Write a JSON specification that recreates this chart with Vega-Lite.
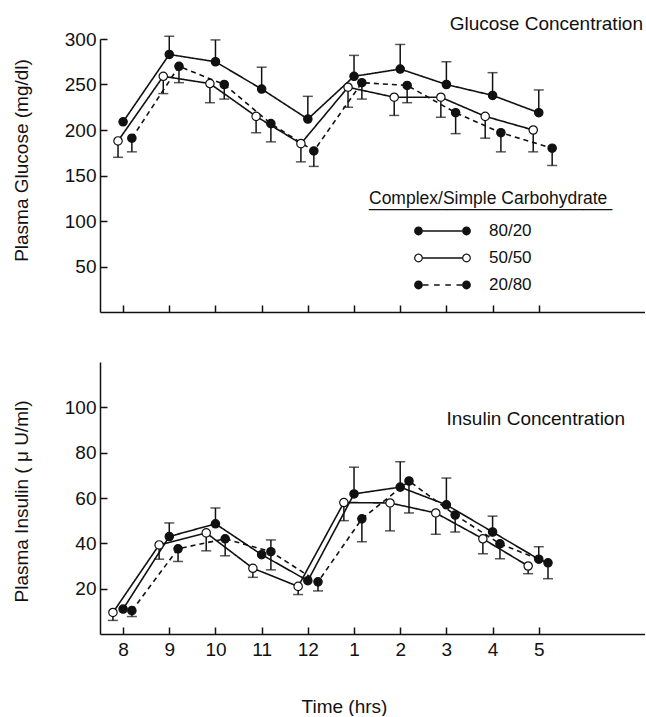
{
  "$schema": "https://vega.github.io/schema/vega-lite/v6.json",
  "padding": {"left": 12, "top": 15, "right": 0, "bottom": 0},
  "background": "white",
  "config": {
    "view": {"stroke": null},
    "font": "Liberation Sans",
    "axis": {"grid": false, "domainColor": "#111", "tickColor": "#111", "labelColor": "#111", "titleColor": "#111", "labelFont": "Liberation Sans", "titleFont": "Liberation Sans", "labelFontSize": 19, "titleFontSize": 19, "titleFontWeight": "normal", "domainWidth": 1.5, "tickWidth": 1.5, "tickSize": -7}
  },
  "datasets": {
    "glucose": [
      {"hour": 8, "group": "80/20", "value": 209}, {"hour": 9, "group": "80/20", "value": 283}, {"hour": 10, "group": "80/20", "value": 275}, {"hour": 11, "group": "80/20", "value": 245}, {"hour": 12, "group": "80/20", "value": 212}, {"hour": 13, "group": "80/20", "value": 259}, {"hour": 14, "group": "80/20", "value": 267}, {"hour": 15, "group": "80/20", "value": 250}, {"hour": 16, "group": "80/20", "value": 238}, {"hour": 17, "group": "80/20", "value": 219},
      {"hour": 7.89, "group": "50/50", "value": 188}, {"hour": 8.87, "group": "50/50", "value": 259}, {"hour": 9.88, "group": "50/50", "value": 251}, {"hour": 10.88, "group": "50/50", "value": 215}, {"hour": 11.85, "group": "50/50", "value": 185}, {"hour": 12.87, "group": "50/50", "value": 247}, {"hour": 13.87, "group": "50/50", "value": 236}, {"hour": 14.88, "group": "50/50", "value": 236}, {"hour": 15.84, "group": "50/50", "value": 215}, {"hour": 16.88, "group": "50/50", "value": 200},
      {"hour": 8.19, "group": "20/80", "value": 191}, {"hour": 9.21, "group": "20/80", "value": 270}, {"hour": 10.19, "group": "20/80", "value": 250}, {"hour": 11.2, "group": "20/80", "value": 207}, {"hour": 12.13, "group": "20/80", "value": 177}, {"hour": 13.17, "group": "20/80", "value": 252}, {"hour": 14.15, "group": "20/80", "value": 249}, {"hour": 15.2, "group": "20/80", "value": 219}, {"hour": 16.18, "group": "20/80", "value": 197}, {"hour": 17.29, "group": "20/80", "value": 180}
    ],
    "glucoseErr": [
      {"hour": 9, "group": "80/20", "value": 283, "end": 303}, {"hour": 10, "group": "80/20", "value": 275, "end": 299}, {"hour": 11, "group": "80/20", "value": 245, "end": 269}, {"hour": 12, "group": "80/20", "value": 212, "end": 237}, {"hour": 13, "group": "80/20", "value": 259, "end": 282}, {"hour": 14, "group": "80/20", "value": 267, "end": 294}, {"hour": 15, "group": "80/20", "value": 250, "end": 275}, {"hour": 16, "group": "80/20", "value": 238, "end": 263}, {"hour": 17, "group": "80/20", "value": 219, "end": 244},
      {"hour": 7.89, "group": "50/50", "value": 188, "end": 170}, {"hour": 8.87, "group": "50/50", "value": 259, "end": 240}, {"hour": 9.88, "group": "50/50", "value": 251, "end": 230}, {"hour": 10.88, "group": "50/50", "value": 215, "end": 197}, {"hour": 11.85, "group": "50/50", "value": 185, "end": 165}, {"hour": 12.87, "group": "50/50", "value": 247, "end": 225}, {"hour": 13.87, "group": "50/50", "value": 236, "end": 216}, {"hour": 14.88, "group": "50/50", "value": 236, "end": 214}, {"hour": 15.84, "group": "50/50", "value": 215, "end": 191}, {"hour": 16.88, "group": "50/50", "value": 200, "end": 176},
      {"hour": 8.19, "group": "20/80", "value": 191, "end": 176}, {"hour": 9.21, "group": "20/80", "value": 270, "end": 252}, {"hour": 10.19, "group": "20/80", "value": 250, "end": 234}, {"hour": 11.2, "group": "20/80", "value": 207, "end": 187}, {"hour": 12.13, "group": "20/80", "value": 177, "end": 160}, {"hour": 13.17, "group": "20/80", "value": 252, "end": 234}, {"hour": 14.15, "group": "20/80", "value": 249, "end": 230}, {"hour": 15.2, "group": "20/80", "value": 219, "end": 196}, {"hour": 16.18, "group": "20/80", "value": 197, "end": 176}, {"hour": 17.29, "group": "20/80", "value": 180, "end": 161}
    ],
    "insulin": [
      {"hour": 8, "group": "80/20", "value": 11}, {"hour": 9, "group": "80/20", "value": 43}, {"hour": 10, "group": "80/20", "value": 48.6}, {"hour": 11, "group": "80/20", "value": 35}, {"hour": 12, "group": "80/20", "value": 23.5}, {"hour": 13, "group": "80/20", "value": 61.8}, {"hour": 14, "group": "80/20", "value": 64.8}, {"hour": 15, "group": "80/20", "value": 57}, {"hour": 16, "group": "80/20", "value": 45}, {"hour": 17, "group": "80/20", "value": 33},
      {"hour": 7.78, "group": "50/50", "value": 9.5}, {"hour": 8.78, "group": "50/50", "value": 39.3}, {"hour": 9.8, "group": "50/50", "value": 44.6}, {"hour": 10.81, "group": "50/50", "value": 29}, {"hour": 11.79, "group": "50/50", "value": 21}, {"hour": 12.78, "group": "50/50", "value": 58}, {"hour": 13.78, "group": "50/50", "value": 57.8}, {"hour": 14.77, "group": "50/50", "value": 53.4}, {"hour": 15.79, "group": "50/50", "value": 42}, {"hour": 16.77, "group": "50/50", "value": 30},
      {"hour": 8.19, "group": "20/80", "value": 10.3}, {"hour": 9.19, "group": "20/80", "value": 37.6}, {"hour": 10.21, "group": "20/80", "value": 42}, {"hour": 11.2, "group": "20/80", "value": 36.3}, {"hour": 12.22, "group": "20/80", "value": 23}, {"hour": 13.17, "group": "20/80", "value": 50.8}, {"hour": 14.19, "group": "20/80", "value": 67.5}, {"hour": 15.19, "group": "20/80", "value": 52.5}, {"hour": 16.16, "group": "20/80", "value": 39.8}, {"hour": 17.2, "group": "20/80", "value": 31.4}
    ],
    "insulinErr": [
      {"hour": 9, "group": "80/20", "value": 43, "end": 49}, {"hour": 10, "group": "80/20", "value": 48.6, "end": 55.6}, {"hour": 13, "group": "80/20", "value": 61.8, "end": 73.6}, {"hour": 14, "group": "80/20", "value": 64.8, "end": 76}, {"hour": 15, "group": "80/20", "value": 57, "end": 68.8}, {"hour": 16, "group": "80/20", "value": 45, "end": 52}, {"hour": 17, "group": "80/20", "value": 33, "end": 38.5},
      {"hour": 7.78, "group": "50/50", "value": 9.5, "end": 6}, {"hour": 8.78, "group": "50/50", "value": 39.3, "end": 33}, {"hour": 9.8, "group": "50/50", "value": 44.6, "end": 36.7}, {"hour": 10.81, "group": "50/50", "value": 29, "end": 25}, {"hour": 11.79, "group": "50/50", "value": 21, "end": 17.4}, {"hour": 12.78, "group": "50/50", "value": 58, "end": 50}, {"hour": 13.78, "group": "50/50", "value": 57.8, "end": 45.5}, {"hour": 14.77, "group": "50/50", "value": 53.4, "end": 44}, {"hour": 15.79, "group": "50/50", "value": 42, "end": 35.4}, {"hour": 16.77, "group": "50/50", "value": 30, "end": 26.6},
      {"hour": 8.19, "group": "20/80", "value": 10.3, "end": 7.7}, {"hour": 9.19, "group": "20/80", "value": 37.6, "end": 32}, {"hour": 10.21, "group": "20/80", "value": 42, "end": 34.5}, {"hour": 11.2, "group": "20/80", "value": 36.3, "end": 28.3}, {"hour": 11.2, "group": "20/80", "value": 36.3, "end": 41.5}, {"hour": 12.22, "group": "20/80", "value": 23, "end": 19}, {"hour": 13.17, "group": "20/80", "value": 50.8, "end": 40.7}, {"hour": 14.19, "group": "20/80", "value": 67.5, "end": 53.4}, {"hour": 15.19, "group": "20/80", "value": 52.5, "end": 45}, {"hour": 16.16, "group": "20/80", "value": 39.8, "end": 33.2}, {"hour": 17.2, "group": "20/80", "value": 31.4, "end": 24.4}
    ]
  },
  "spacing": 50,
  "bounds": "flush",
  "resolve": {"scale": {"y": "independent", "x": "independent"}, "legend": {"fill": "independent", "shape": "independent"}},
  "vconcat": [
    {
      "width": 545,
      "height": 273,
      "title": {"text": "Glucose Concentration", "anchor": "end", "frame": "group", "fontSize": 19, "fontWeight": "normal", "font": "Liberation Sans", "color": "#111", "offset": -4, "dx": -2},
      "layer": [
        {
          "data": {"name": "glucose"},
          "mark": {"type": "line", "color": "#111", "strokeWidth": 1.6},
          "encoding": {
            "x": {"field": "hour", "type": "quantitative", "scale": {"domain": [7.5, 19.3], "nice": false, "zero": false}, "axis": {"values": [8, 9, 10, 11, 12, 13, 14, 15, 16, 17], "labels": false, "title": null}},
            "y": {"field": "value", "type": "quantitative", "scale": {"domain": [0, 300], "nice": false}, "axis": {"values": [50, 100, 150, 200, 250, 300], "title": "Plasma Glucose (mg/dl)", "titlePadding": 33, "titleY": 121, "labelPadding": 11}},
            "detail": {"field": "group"},
            "strokeDash": {"field": "group", "type": "nominal", "scale": {"domain": ["80/20", "50/50", "20/80"], "range": [[1, 0], [1, 0], [5, 4]]}, "legend": null}
          }
        },
        {
          "data": {"name": "glucoseErr"},
          "mark": {"type": "rule", "color": "#111", "strokeWidth": 1.5},
          "encoding": {
            "x": {"field": "hour", "type": "quantitative"},
            "y": {"field": "value", "type": "quantitative"},
            "y2": {"field": "end"}
          }
        },
        {
          "data": {"name": "glucoseErr"},
          "mark": {"type": "tick", "orient": "horizontal", "color": "#111", "thickness": 1.5, "size": 10},
          "encoding": {
            "x": {"field": "hour", "type": "quantitative"},
            "y": {"field": "end", "type": "quantitative"}
          }
        },
        {
          "data": {"name": "glucose"},
          "transform": [{"filter": "datum.group !== '50/50'"}],
          "mark": {"type": "point", "filled": true, "size": 70, "fill": "#111", "stroke": "#111", "strokeWidth": 1.2, "opacity": 1},
          "encoding": {
            "x": {"field": "hour", "type": "quantitative"},
            "y": {"field": "value", "type": "quantitative"}
          }
        },
        {
          "data": {"name": "glucose"},
          "transform": [{"filter": "datum.group === '50/50'"}],
          "mark": {"type": "point", "filled": true, "size": 70, "fill": "#ffffff", "stroke": "#111", "strokeWidth": 1.2, "opacity": 1},
          "encoding": {
            "x": {"field": "hour", "type": "quantitative"},
            "y": {"field": "value", "type": "quantitative"}
          }
        },
        {
          "data": {"name": "glucose"},
          "transform": [{"filter": "datum.value < 0"}],
          "mark": {"type": "point", "filled": true, "size": 64, "stroke": "#111", "strokeWidth": 1.5, "opacity": 1},
          "encoding": {
            "x": {"field": "hour", "type": "quantitative"},
            "y": {"field": "value", "type": "quantitative"},
            "shape": {"field": "group", "type": "nominal", "scale": {"domain": ["80/20", "50/50", "20/80"], "range": [
              "M-7.1,0A1.1,1.1,0,1,0,-4.9,0A1.1,1.1,0,1,0,-7.1,0ZM4.9,0A1.1,1.1,0,1,0,7.1,0A1.1,1.1,0,1,0,4.9,0ZM-4.9,-0.2L4.9,-0.2L4.9,0.2L-4.9,0.2Z",
              "M-7.1,0A1.1,1.1,0,1,0,-4.9,0A1.1,1.1,0,1,0,-7.1,0ZM-6.8,0A0.8,0.8,0,1,1,-5.2,0A0.8,0.8,0,1,1,-6.8,0ZM4.9,0A1.1,1.1,0,1,0,7.1,0A1.1,1.1,0,1,0,4.9,0ZM5.2,0A0.8,0.8,0,1,1,6.8,0A0.8,0.8,0,1,1,5.2,0ZM-4.9,-0.2L4.9,-0.2L4.9,0.2L-4.9,0.2Z",
              "M-7.1,0A1.1,1.1,0,1,0,-4.9,0A1.1,1.1,0,1,0,-7.1,0ZM4.9,0A1.1,1.1,0,1,0,7.1,0A1.1,1.1,0,1,0,4.9,0ZM-4.9,-0.2L-3.5,-0.2L-3.5,0.2L-4.9,0.2ZM-2.1,-0.2L-0.7,-0.2L-0.7,0.2L-2.1,0.2ZM0.7,-0.2L2.1,-0.2L2.1,0.2L0.7,0.2ZM3.5,-0.2L4.9,-0.2L4.9,0.2L3.5,0.2Z"
            ]},
              "legend": {
                "orient": "none", "legendX": 269, "legendY": 151,
                "title": ["Complex/Simple Carbohydrate", "_________________________"],
                "titleFont": "Liberation Sans", "titleFontSize": 17.5, "titleFontWeight": "normal", "titleColor": "#111", "titleLineHeight": 2, "titlePadding": 13, "titleLimit": 400,
                "labelFont": "Liberation Sans", "labelFontSize": 17, "labelColor": "#111", "labelLimit": 200,
                "symbolSize": 64, "symbolStrokeColor": "#111", "symbolStrokeWidth": 1.5,
                "symbolOffset": 65, "labelOffset": 38, "rowPadding": 9
              }
            },
            "fill": {
              "field": "group", "type": "nominal",
              "scale": {"domain": ["80/20", "50/50", "20/80"], "range": ["#111", "#111", "#111"]},
              "legend": {
                "orient": "none", "legendX": 269, "legendY": 151,
                "title": ["Complex/Simple Carbohydrate", "_________________________"],
                "titleFont": "Liberation Sans", "titleFontSize": 17.5, "titleFontWeight": "normal", "titleColor": "#111", "titleLineHeight": 2, "titlePadding": 13, "titleLimit": 400,
                "labelFont": "Liberation Sans", "labelFontSize": 17, "labelColor": "#111", "labelLimit": 200,
                "symbolSize": 64, "symbolStrokeColor": "#111", "symbolStrokeWidth": 1.5,
                "symbolOffset": 65, "labelOffset": 38, "rowPadding": 9
              }
            }
          }
        }
      ]
    },
    {
      "width": 545,
      "height": 272,
      "title": {"text": "Insulin Concentration", "anchor": "end", "frame": "group", "fontSize": 19, "fontWeight": "normal", "font": "Liberation Sans", "color": "#111", "offset": -67, "dx": -20},
      "layer": [
        {
          "data": {"name": "insulin"},
          "mark": {"type": "line", "color": "#111", "strokeWidth": 1.6},
          "encoding": {
            "x": {"field": "hour", "type": "quantitative", "scale": {"domain": [7.5, 19.3], "nice": false, "zero": false}, "axis": {"values": [8, 9, 10, 11, 12, 13, 14, 15, 16, 17], "labelExpr": "datum.value > 12 ? datum.value - 12 : datum.value", "labelPadding": 13, "title": "Time (hrs)", "titleX": 244, "titlePadding": 38}},
            "y": {"field": "value", "type": "quantitative", "scale": {"domain": [0, 120], "nice": false}, "axis": {"values": [20, 40, 60, 80, 100], "title": "Plasma Insulin ( μ U/ml)", "titlePadding": 33, "titleY": 139, "labelPadding": 11}},
            "detail": {"field": "group"},
            "strokeDash": {"field": "group", "type": "nominal", "scale": {"domain": ["80/20", "50/50", "20/80"], "range": [[1, 0], [1, 0], [5, 4]]}, "legend": null}
          }
        },
        {
          "data": {"name": "insulinErr"},
          "mark": {"type": "rule", "color": "#111", "strokeWidth": 1.5},
          "encoding": {
            "x": {"field": "hour", "type": "quantitative"},
            "y": {"field": "value", "type": "quantitative"},
            "y2": {"field": "end"}
          }
        },
        {
          "data": {"name": "insulinErr"},
          "mark": {"type": "tick", "orient": "horizontal", "color": "#111", "thickness": 1.5, "size": 10},
          "encoding": {
            "x": {"field": "hour", "type": "quantitative"},
            "y": {"field": "end", "type": "quantitative"}
          }
        },
        {
          "data": {"name": "insulin"},
          "transform": [{"filter": "datum.group !== '50/50'"}],
          "mark": {"type": "point", "filled": true, "size": 70, "fill": "#111", "stroke": "#111", "strokeWidth": 1.2, "opacity": 1},
          "encoding": {
            "x": {"field": "hour", "type": "quantitative"},
            "y": {"field": "value", "type": "quantitative"}
          }
        },
        {
          "data": {"name": "insulin"},
          "transform": [{"filter": "datum.group === '50/50'"}],
          "mark": {"type": "point", "filled": true, "size": 70, "fill": "#ffffff", "stroke": "#111", "strokeWidth": 1.2, "opacity": 1},
          "encoding": {
            "x": {"field": "hour", "type": "quantitative"},
            "y": {"field": "value", "type": "quantitative"}
          }
        }
      ]
    }
  ]
}
